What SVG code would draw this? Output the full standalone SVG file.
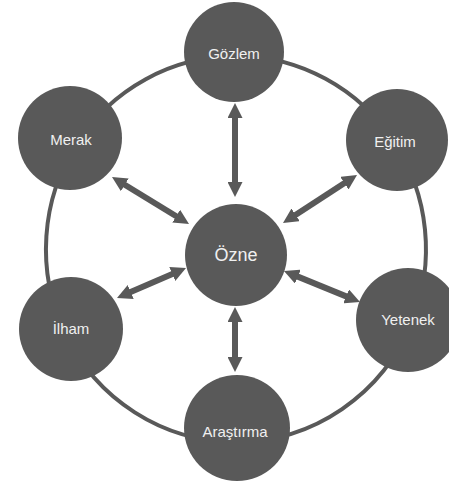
<svg xmlns="http://www.w3.org/2000/svg" width="449" height="486" viewBox="0 0 449 486">
<style>
.node{fill:#595959}
.lbl{fill:#f0f0f0;font-family:"Liberation Sans",Arial,sans-serif;font-size:15px;text-anchor:middle}
.ring{fill:none;stroke:#595959;stroke-width:4}
.arr{stroke:#595959;stroke-width:6;marker-start:url(#head);marker-end:url(#head)}
</style>
<defs>
<marker id="head" markerUnits="userSpaceOnUse" viewBox="0 0 15 15" markerWidth="15" markerHeight="15" refX="2" refY="7.5" orient="auto-start-reverse">
<path d="M0,0 L15,7.5 L0,15 z" fill="#595959"/>
</marker>
</defs>
<rect width="449" height="486" fill="#ffffff"/>
<g id="connectors">
<path class="ring" d="M236,56 A190,193 0 0 1 394,141.9"/>
<path class="ring" d="M394,141.9 A190,193 0 0 1 412,321.6"/>
<path class="ring" d="M412,321.6 A190,193 0 0 1 236,442"/>
<path class="ring" d="M236,442 A190,193 0 0 1 64.6,332.4"/>
<path class="ring" d="M64.6,332.4 A190,193 0 0 1 77.2,143"/>
<path class="ring" d="M77.2,143 A190,193 0 0 1 236,56"/>
<line class="arr" x1="235" y1="116" x2="235" y2="184"/>
<line class="arr" x1="123.1" y1="183.8" x2="177.9" y2="217.2"/>
<line class="arr" x1="346.1" y1="182.1" x2="293.9" y2="215.9"/>
<line class="arr" x1="128.9" y1="292.8" x2="174.1" y2="273.2"/>
<line class="arr" x1="348" y1="297.1" x2="296" y2="275.9"/>
<line class="arr" x1="235" y1="359" x2="235" y2="320"/>
</g>
<g id="gozlem"><circle class="node" cx="234" cy="52" r="50"/><text class="lbl" x="234" y="59">Gözlem</text></g>
<g id="merak"><circle class="node" cx="70" cy="138" r="52"/><text class="lbl" x="71" y="145">Merak</text></g>
<g id="egitim"><circle class="node" cx="397" cy="140" r="51"/><text class="lbl" x="395" y="147">Eğitim</text></g>
<g id="ozne"><circle class="node" cx="236" cy="255" r="51"/><text class="lbl" x="236" y="261" style="font-size:18px">Özne</text></g>
<g id="ilham"><circle class="node" cx="71" cy="329" r="52"/><text class="lbl" x="71" y="334">İlham</text></g>
<g id="yetenek"><circle class="node" cx="408" cy="320" r="52"/><text class="lbl" x="408" y="325">Yetenek</text></g>
<g id="arastirma"><circle class="node" cx="237" cy="428" r="53"/><text class="lbl" x="235" y="437">Araştırma</text></g>
</svg>
